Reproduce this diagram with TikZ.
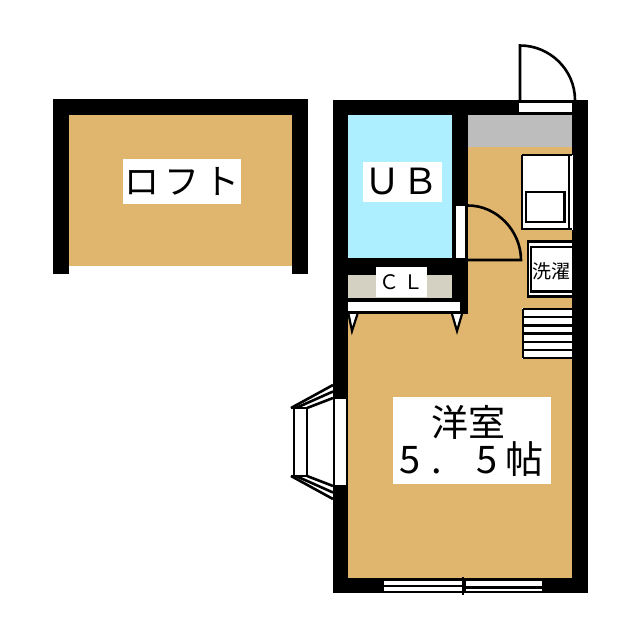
\documentclass[tikz,border=0pt]{standalone}
\usepackage{fontspec}
\setmainfont{Noto Sans CJK JP}
\definecolor{floorc}{HTML}{E0B56E}
\definecolor{bathc}{HTML}{ADEEFF}
\definecolor{grayc}{HTML}{BDBDBD}
\definecolor{closetc}{HTML}{D4D1C3}
\tikzset{
  wall/.style={fill=black,draw=none},
  floorarea/.style={fill=floorc,draw=none},
  whitepane/.style={fill=white,draw=none},
  outline/.style={draw=black,line width=2.2pt,fill=white},
  thin line/.style={draw=black,line width=2.6pt},
  roomlabel/.style={fill=white,inner sep=0pt,align=center,text=black},
}
\begin{document}
\begin{tikzpicture}[x=1pt,y=-1pt]
\useasboundingbox (0,0) rectangle (640,640);
\fill[white] (0,0) rectangle (640,640);
% loft
\fill[wall] (53,99) rectangle (308,274);
\fill[white] (69,266) rectangle (292,275);
\fill[floorarea] (69,115) rectangle (292,266);
\node[roomlabel,minimum width=118pt,minimum height=45pt] (loft) at (182,181.5) {\fontsize{35}{35}\selectfont ロ\hspace{5pt}フ\hspace{5pt}ト};
% main outer
\fill[wall] (333,100) rectangle (588,593);
\fill[floorarea] (348,115) rectangle (572,578);
\fill[grayc] (468,115) rectangle (572,147);
% bath
\fill[wall] (348,115) rectangle (468,314);
\fill[bathc] (348,115) rectangle (452,258);
\node[roomlabel,minimum width=79pt,minimum height=40pt] (ub) at (402.5,182) {\hspace*{-2pt}\fontsize{36}{36}\selectfont Ｕ\hspace{2pt}Ｂ};
% bath door
\fill[whitepane] (456,206) rectangle (465,258);
\draw[thin line] (468,205.5) .. controls (497,205.5) and (521,231) .. (521,260) -- (468,260);
% closet
\fill[closetc] (348,275) rectangle (452,298);
\node[roomlabel,minimum width=51pt,minimum height=30pt] (cl) at (401.5,282) {\fontsize{20}{20}\selectfont Ｃ\hspace{4pt}Ｌ};
\fill[whitepane] (348,302) rectangle (460,311);
\draw[outline] (348.5,314) -- (352,331) -- (357.5,314);
\draw[outline] (452,314) -- (457,331) -- (462,314);
% entry door
\fill[whitepane] (519,103) rectangle (572,112);
\draw[thin line] (520,100) -- (520,45.5) .. controls (550,45.5) and (575,70) .. (575,100);
% kitchen
\fill[white] (521,155) rectangle (573,230);
\draw[thin line] (522,155) -- (572,155);
\draw[thin line] (522,155) -- (522,229) -- (572,229);
\draw[thin line] (569,155) -- (569,229);
\draw[thin line,fill=white] (526,192) rectangle (564.5,222);
% washer
\fill[white] (527,241) rectangle (572,297);
\draw[thin line] (572,241.5) -- (528,241.5) -- (528,296.5) -- (572,296.5);
\draw[thin line] (572,247) -- (531,247) -- (531,291.5) -- (572,291.5);
\node[inner sep=0pt] (wash) at (551,271) {\fontsize{19}{19}\selectfont 洗濯};
% stairs
\fill[white] (522,308) rectangle (572,359);
\draw[thin line] (523,309) -- (523,358);
\foreach \y in {309,317,325.5,333.5,342,350,358}{\draw[thin line] (523,\y) -- (572,\y);}
% bay window
\fill[whitepane] (335,399) rectangle (346,485);
\fill[white] (294,408) rectangle (307,476);
\draw[thin line] (294,408) -- (294,476);
\draw[thin line] (307,408) -- (307,476);
\draw[thin line] (291,408) -- (333,385);
\draw[thin line] (296,408) -- (333,391.5);
\draw[thin line] (307,408) -- (333,398);
\draw[thin line] (291,476) -- (333,499);
\draw[thin line] (296,476) -- (333,492.5);
\draw[thin line] (307,476) -- (333,486);
\draw[thin line] (291,408) -- (307,408);
\draw[thin line] (291,476) -- (307,476);
% bottom window
\fill[whitepane] (384,581) rectangle (462,585);
\fill[whitepane] (384,587) rectangle (462,591);
\fill[whitepane] (466,581) rectangle (542,586);
\fill[whitepane] (466,589) rectangle (542,591);
\draw[black,line width=2pt] (463,577) -- (463,595);
% main label
\fill[white] (393,397) rectangle (551,484);
\node[inner sep=0pt] (roomname) at (468,422.5) {\fontsize{37}{37}\selectfont 洋室};
\node[inner sep=0pt] (roomsize) at (471.5,459.5) {\fontsize{38}{38}\selectfont 5\hspace{11pt}.\hspace{35pt}5\hspace{8pt}帖};
\end{tikzpicture}
\end{document}
